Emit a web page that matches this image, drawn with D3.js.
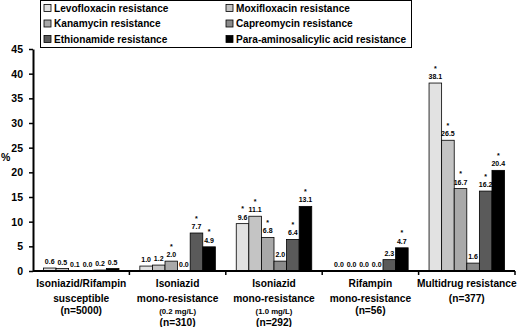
<!DOCTYPE html>
<html>
<head>
<meta charset="utf-8">
<script src="https://cdn.jsdelivr.net/npm/d3@7"></script>
<style>
  body { margin: 0; background: #fff; }
  svg { display: block; font-family: "Liberation Sans", Arial, sans-serif; font-weight: bold; }
</style>
</head>
<body>
<div id="chart"></div>
<script>
const groups = ['g1', 'g2', 'g3', 'g4', 'g5'];
const groupLabels = [
    [['Isoniazid/Rifampin', 'big'], ['susceptible', 'big'], ['(n=5000)', 'big']],
    [['Isoniazid', 'big'], ['mono-resistance', 'big'], ['(0.2 mg/L)', 'small'], ['(n=310)', 'big']],
    [['Isoniazid', 'big'], ['mono-resistance', 'big'], ['(1.0 mg/L)', 'small'], ['(n=292)', 'big']],
    [['Rifampin', 'big'], ['mono-resistance', 'big'], ['(n=56)', 'big']],
    [['Multidrug resistance', 'big'], ['(n=377)', 'big']]
];
const series = [
    'Levofloxacin resistance', 'Moxifloxacin resistance',
    'Kanamycin resistance', 'Capreomycin resistance',
    'Ethionamide resistance', 'Para-aminosalicylic acid resistance'
];
const colors = ['#e2e2e2', '#c4c4c4', '#a9a9a9', '#8a8a8a', '#5a5a5a', '#000000'];

// values per group, in series order
const values = [
    [0.6, 0.5, 0.1, 0.0, 0.2, 0.5],
    [1.0, 1.2, 2.0, 0.0, 7.7, 4.9],
    [9.6, 11.1, 6.8, 2.0, 6.4, 13.1],
    [0.0, 0.0, 0.0, 0.0, 2.3, 4.7],
    [38.1, 26.5, 16.7, 1.6, 16.2, 20.4]
];
// significance markers
const stars = [
    [0, 0, 0, 0, 0, 0],
    [0, 0, 1, 0, 1, 1],
    [1, 1, 1, 0, 1, 1],
    [0, 0, 0, 0, 0, 1],
    [1, 1, 1, 0, 1, 1]
];
const yTicks = [0, 5, 10, 15, 20, 25, 30, 35, 40, 45];

const W = 519, H = 327;
const mLeft = 33, mRight = 515, mTop = 49, mBottom = 271;

const svg = d3.select('#chart').append('svg')
    .attr('width', W)
    .attr('height', H);

const x0 = d3.scaleBand()
    .domain(groups)
    .range([mLeft, mRight]);

const x1 = d3.scaleBand()
    .domain(series)
    .range([0, x0.bandwidth()])
    .paddingInner(0)
    .paddingOuter(0.83);

const y = d3.scaleLinear()
    .domain([0, 45])
    .range([mBottom, mTop]);

// y axis
const yAxis = svg.append('g')
    .attr('transform', `translate(${mLeft},0)`)
    .call(d3.axisLeft(y).tickValues(yTicks).tickSize(4).tickSizeOuter(0).tickPadding(6));
yAxis.select('.domain').attr('stroke', '#000').attr('stroke-width', 2);
yAxis.selectAll('.tick line').attr('stroke', '#000').attr('stroke-width', 1.5);
yAxis.selectAll('.tick text')
    .attr('font-size', 10.5)
    .attr('font-weight', 'bold')
    .attr('font-family', '"Liberation Sans", Arial, sans-serif')
    .attr('fill', '#000');

svg.append('text')
    .attr('x', 1)
    .attr('y', 161)
    .attr('font-size', 10.5)
    .text('%');

// bars
const g = svg.append('g');
groups.forEach((grp, gi) => {
    const gg = g.append('g').attr('transform', `translate(${x0(grp)},0)`);
    const rows = series.map((s, si) => ({s, si, v: values[gi][si], star: stars[gi][si]}));

    gg.selectAll('rect')
        .data(rows)
        .join('rect')
        .attr('x', d => x1(d.s))
        .attr('y', d => y(d.v))
        .attr('width', x1.bandwidth())
        .attr('height', d => mBottom - y(d.v))
        .attr('fill', d => colors[d.si])
        .attr('stroke', '#000')
        .attr('stroke-width', 0.8);

    gg.selectAll('text.val')
        .data(rows)
        .join('text')
        .attr('class', 'val')
        .attr('x', d => x1(d.s) + x1.bandwidth() / 2)
        .attr('y', d => y(d.v) - 4)
        .attr('text-anchor', 'middle')
        .attr('font-size', 7)
        .text(d => d.v.toFixed(1));

    gg.selectAll('text.star')
        .data(rows.filter(d => d.star))
        .join('text')
        .attr('class', 'star')
        .attr('x', d => x1(d.s) + x1.bandwidth() / 2)
        .attr('y', d => y(d.v) - 12.5)
        .attr('text-anchor', 'middle')
        .attr('font-size', 7)
        .text('*');
});

// x axis
svg.append('line')
    .attr('x1', mLeft).attr('x2', mRight)
    .attr('y1', mBottom).attr('y2', mBottom)
    .attr('stroke', '#000').attr('stroke-width', 2);

svg.selectAll('line.xt')
    .data(groups.slice(1).map(d => x0(d)).concat([mRight]))
    .join('line')
    .attr('class', 'xt')
    .attr('x1', d => d).attr('x2', d => d)
    .attr('y1', mBottom).attr('y2', mBottom + 4)
    .attr('stroke', '#000').attr('stroke-width', 1.5);

// category labels
const lineGaps = [0, 14.5, 12.5, 11.5];
groups.forEach((grp, gi) => {
    const cx = x0(grp) + x0.bandwidth() / 2;
    let yy = 287;
    groupLabels[gi].forEach(([txt, kind], li) => {
        yy += lineGaps[li];
        svg.append('text')
            .attr('x', cx)
            .attr('y', yy)
            .attr('text-anchor', 'middle')
            .attr('font-size', kind === 'big' ? 10.2 : 7.8)
            .text(txt);
    });
});

// legend
svg.append('rect')
    .attr('x', 40.5).attr('y', 0.5)
    .attr('width', 371).attr('height', 47)
    .attr('fill', '#fff')
    .attr('stroke', '#000')
    .attr('stroke-width', 1);

const legend = svg.append('g').selectAll('g')
    .data(series)
    .join('g')
    .attr('transform', (d, i) => `translate(${i % 2 === 0 ? 44 : 226},${8 + Math.floor(i / 2) * 15.5})`);

legend.append('rect')
    .attr('x', 0).attr('y', -3.5)
    .attr('width', 7).attr('height', 7)
    .attr('fill', (d, i) => colors[i])
    .attr('stroke', '#000')
    .attr('stroke-width', 0.8);

legend.append('text')
    .attr('x', 10)
    .attr('y', 3.7)
    .attr('font-size', 10.1)
    .text(d => d);
</script>
</body>
</html>
